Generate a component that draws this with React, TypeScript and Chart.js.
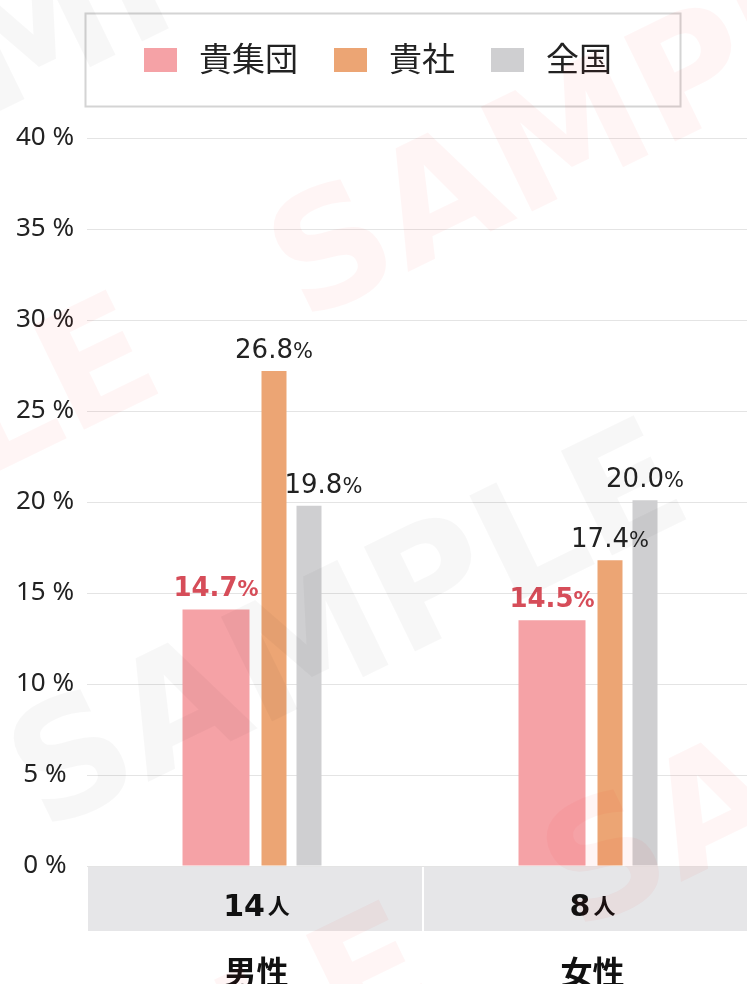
import { useEffect, useRef } from "react";
import { Chart, registerables } from "chart.js";

Chart.register(...registerables);

// ---- data ----
const categories = ["男性", "女性"];
const headcounts = ["14", "8"];
const headcountUnit = "人";
const seriesNames = ["貴集団", "貴社", "全国"];
// bar heights as drawn in the picture (%)
const groupValues = [14.1, 13.5];
const companyValues = [27.2, 16.8];
const nationalValues = [19.8, 20.1];
// values printed above the bars
const groupLabels = ["14.7", "14.5"];
const companyLabels = ["26.8", "17.4"];
const nationalLabels = ["19.8", "20.0"];
const yMin = 0;
const yMax = 40;
const yStep = 5;

// ---- styles ----
const PINK = "#f5a2a6";
const ORANGE = "#eca574";
const GRAY = "#cfcfd1";
const BAND = "#e6e6e8";
const RED_TEXT = "#d64d59";
const TEXT = "#222222";

const legendPlugin = {
  id: "boxLegend",
  afterDraw(chart: any) {
    const ctx = chart.ctx;
    ctx.save();
    ctx.strokeStyle = "#d4d4d4";
    ctx.lineWidth = 2;
    ctx.strokeRect(85.5, 13.5, 595, 93);
    let x = 144;
    const items = chart.data.datasets.filter((d: any) => d.inLegend);
    ctx.font = '33px "Noto Sans CJK JP"';
    ctx.textBaseline = "middle";
    ctx.textAlign = "left";
    items.forEach((d: any) => {
      ctx.fillStyle = d.backgroundColor;
      ctx.fillRect(x, 48, 33, 24);
      x += 33 + 22;
      ctx.fillStyle = TEXT;
      ctx.fillText(d.label, x, 58);
      x += ctx.measureText(d.label).width + 36;
    });
    ctx.restore();
  },
};

const axisBandPlugin = {
  id: "axisBands",
  afterDraw(chart: any) {
    const ctx = chart.ctx;
    const xs = chart.scales.x;
    const ca = chart.chartArea;
    const step = xs.getPixelForValue(1) - xs.getPixelForValue(0);
    ctx.save();
    categories.forEach((cat, i) => {
      const cx = xs.getPixelForValue(i);
      const left = cx - step / 2;
      ctx.fillStyle = BAND;
      ctx.fillRect(left + 1, ca.bottom + 1, step - 2, 64);
      ctx.font = 'bold 30px "DejaVu Sans"';
      const wn = ctx.measureText(headcounts[i]).width;
      ctx.font = 'bold 22px "Noto Sans CJK JP"';
      const wu = ctx.measureText(headcountUnit).width;
      const total = wn + 3 + wu;
      const tx = cx + 1.5 - total / 2;
      ctx.fillStyle = "#111";
      ctx.textAlign = "left";
      ctx.textBaseline = "alphabetic";
      ctx.font = 'bold 30px "DejaVu Sans"';
      ctx.fillText(headcounts[i], tx, 916);
      ctx.font = 'bold 22px "Noto Sans CJK JP"';
      ctx.fillText(headcountUnit, tx + wn + 3, 914);
      ctx.font = 'bold 32px "Noto Sans CJK JP"';
      ctx.textAlign = "center";
      ctx.textBaseline = "middle";
      ctx.fillText(cat, cx + 1.5, 972);
    });
    ctx.restore();
  },
};

const valueLabelPlugin = {
  id: "valueLabels",
  afterDatasetsDraw(chart: any) {
    const ctx = chart.ctx;
    ctx.save();
    chart.data.datasets.forEach((ds: any, di: number) => {
      if (!ds.printed) return;
      const meta = chart.getDatasetMeta(di);
      meta.data.forEach((bar: any, i: number) => {
        const p = bar.getProps(["x", "y", "width"], true);
        const weight = ds.labelBold ? "bold " : "";
        const num = ds.printed[i];
        ctx.font = `${weight}26px "DejaVu Sans"`;
        const wn = ctx.measureText(num).width;
        ctx.font = `${weight}21px "DejaVu Sans"`;
        const wp = ctx.measureText("%").width;
        const w = wn + wp;
        const baseline = p.y - 13;
        let left = p.x - w / 2;
        chart.data.datasets.forEach((o: any, oi: number) => {
          if (oi === di || !o.printed) return;
          const ob = chart.getDatasetMeta(oi).data[i];
          if (!ob) return;
          const q = ob.getProps(["x", "y", "width"], true);
          const right = q.x + q.width / 2;
          if (q.x < p.x && q.y < baseline && right > left) left = right - 2;
        });
        ctx.fillStyle = ds.labelColor;
        ctx.textAlign = "left";
        ctx.textBaseline = "alphabetic";
        ctx.font = `${weight}26px "DejaVu Sans"`;
        ctx.fillText(num, left, baseline);
        ctx.font = `${weight}21px "DejaVu Sans"`;
        ctx.fillText("%", left + wn, baseline);
      });
    });
    ctx.restore();
  },
};

const watermarkPlugin = {
  id: "watermark",
  afterDraw(chart: any) {
    const ctx = chart.ctx;
    const word = "SAMPLE";
    const angle = (-26 * Math.PI) / 180;
    const cos = Math.cos(angle);
    const sin = Math.sin(angle);
    const rows = [
      { color: "rgba(255,0,0,0.04)", sx: 330, sy: 245 },
      { color: "rgba(0,0,0,0.03)", sx: 70, sy: 755 },
      { color: "rgba(0,0,0,0.03)", sx: -203, sy: 145 },
      { color: "rgba(255,0,0,0.04)", sx: 603, sy: 855 },
    ];
    ctx.save();
    ctx.font = 'bold 160px "DejaVu Sans"';
    ctx.textAlign = "left";
    ctx.textBaseline = "alphabetic";
    const wS = ctx.measureText("S").width;
    const cap = 160 * 0.729;
    const period = ctx.measureText(word).width + 150;
    const lx = wS / 2;
    const ly = -cap / 2;
    const offX = lx * cos - ly * sin;
    const offY = lx * sin + ly * cos;
    rows.forEach((r) => {
      for (let k = -2; k <= 2; k++) {
        const ox = r.sx - offX + k * period * cos;
        const oy = r.sy - offY + k * period * sin;
        ctx.save();
        ctx.translate(ox, oy);
        ctx.rotate(angle);
        ctx.fillStyle = r.color;
        ctx.fillText(word, 0, 0);
        ctx.restore();
      }
    });
    ctx.restore();
  },
};

export default function App() {
  const canvasRef = useRef<HTMLCanvasElement | null>(null);

  useEffect(() => {
    if (!canvasRef.current) return;
    const chart = new Chart(canvasRef.current, {
      type: "bar",
      data: {
        labels: categories,
        datasets: [
          {
            label: seriesNames[0],
            data: groupValues,
            backgroundColor: PINK,
            categoryPercentage: 0.3095,
            barPercentage: 2.577,
            printed: groupLabels,
            labelColor: RED_TEXT,
            labelBold: true,
            inLegend: true,
          } as any,
          {
            label: "",
            data: [null, null],
            backgroundColor: "rgba(0,0,0,0)",
            categoryPercentage: 0.4,
            barPercentage: 0.5,
          } as any,
          {
            label: seriesNames[1],
            data: companyValues,
            backgroundColor: ORANGE,
            categoryPercentage: 0.4524,
            barPercentage: 0.658,
            printed: companyLabels,
            labelColor: TEXT,
            inLegend: true,
          } as any,
          {
            label: seriesNames[2],
            data: nationalValues,
            backgroundColor: GRAY,
            categoryPercentage: 0.4286,
            barPercentage: 0.694,
            printed: nationalLabels,
            labelColor: TEXT,
            inLegend: true,
          } as any,
        ],
      },
      options: {
        responsive: false,
        animation: false,
        devicePixelRatio: 1,
        layout: { padding: { top: 138, bottom: 118, left: 0, right: 1 } },
        plugins: {
          legend: { display: false },
          tooltip: { enabled: false },
        },
        scales: {
          x: { display: false, offset: true },
          y: {
            min: yMin,
            max: yMax,
            ticks: {
              stepSize: yStep,
              callback: (v: any) => `${v} %`,
              font: { family: '"Noto Sans", sans-serif', size: 26 },
              color: TEXT,
              padding: 13,
              crossAlign: "center",
            },
            grid: { color: "#e4e4e4", drawTicks: false },
            border: { display: false },
            afterFit: (s: any) => {
              s.width = 87;
            },
          },
        },
      },
      plugins: [valueLabelPlugin, axisBandPlugin, legendPlugin, watermarkPlugin],
    } as any);
    return () => chart.destroy();
  }, []);

  return (
    <div
      style={{
        position: "fixed",
        left: 0,
        top: 0,
        width: 747,
        height: 984,
        overflow: "hidden",
        background: "#fff",
      }}
    >
      <canvas ref={canvasRef} width={760} height={984} style={{ width: 760, height: 984, display: "block" }} />
    </div>
  );
}
